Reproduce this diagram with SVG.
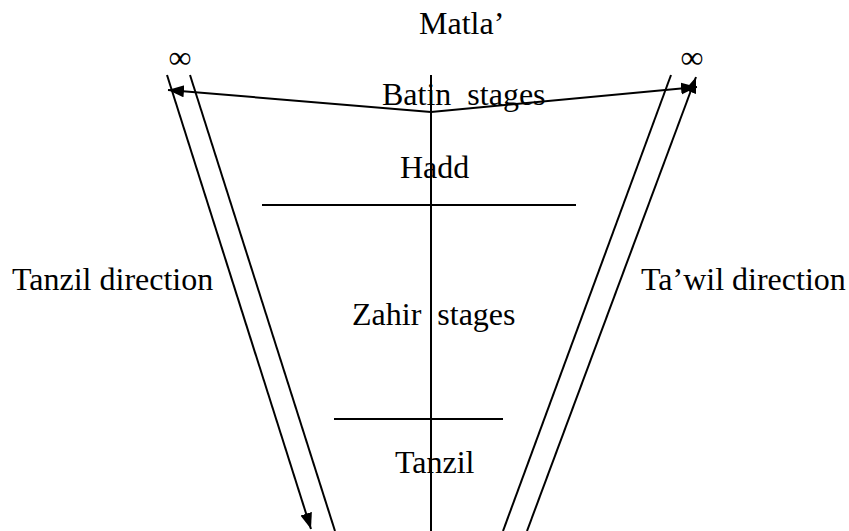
<svg xmlns="http://www.w3.org/2000/svg" width="849" height="531" viewBox="0 0 849 531">
  <style>
    .t { font-family: "Liberation Serif", "Times New Roman", serif; font-size: 32px; fill: #000; }
    .ln { stroke: #000; stroke-width: 2; fill: none; }
  </style>
  <defs>
    <marker id="ah" markerUnits="userSpaceOnUse" markerWidth="18" markerHeight="14" refX="16" refY="6" orient="auto">
      <path d="M0,0 L16,6 L0,12 z" fill="#000"/>
    </marker>
  </defs>
  <rect width="849" height="531" fill="#fff"/>

  <g id="connectors">
    <line class="ln" x1="431" y1="75" x2="431" y2="531"/>
    <line class="ln" x1="262" y1="205" x2="576" y2="205"/>
    <line class="ln" x1="334" y1="419" x2="503" y2="419"/>
    <line class="ln" x1="431" y1="112" x2="168" y2="90" marker-end="url(#ah)"/>
    <line class="ln" x1="431" y1="112" x2="697" y2="87" marker-end="url(#ah)"/>
    <line class="ln" x1="167" y1="75" x2="311" y2="529" marker-end="url(#ah)"/>
    <line class="ln" x1="190" y1="75" x2="335" y2="531"/>
    <line class="ln" x1="671" y1="75" x2="503" y2="531"/>
    <line class="ln" x1="527" y1="531" x2="696" y2="77" marker-end="url(#ah)"/>
  </g>

  <g id="matla"><text class="t" x="419" y="34">Matla’</text></g>
  <g id="inf-left"><text class="t" x="180" y="68" text-anchor="middle">∞</text></g>
  <g id="inf-right"><text class="t" x="692" y="68" text-anchor="middle">∞</text></g>
  <g id="batin"><text class="t" x="382" y="105" xml:space="preserve">Batin  stages</text></g>
  <g id="hadd"><text class="t" x="400" y="178">Hadd</text></g>
  <g id="tanzil-direction"><text class="t" x="12" y="290">Tanzil direction</text></g>
  <g id="tawil-direction"><text class="t" x="641" y="290">Ta’wil direction</text></g>
  <g id="zahir"><text class="t" x="352" y="325" xml:space="preserve">Zahir  stages</text></g>
  <g id="tanzil"><text class="t" x="395" y="473">Tanzil</text></g>
</svg>
